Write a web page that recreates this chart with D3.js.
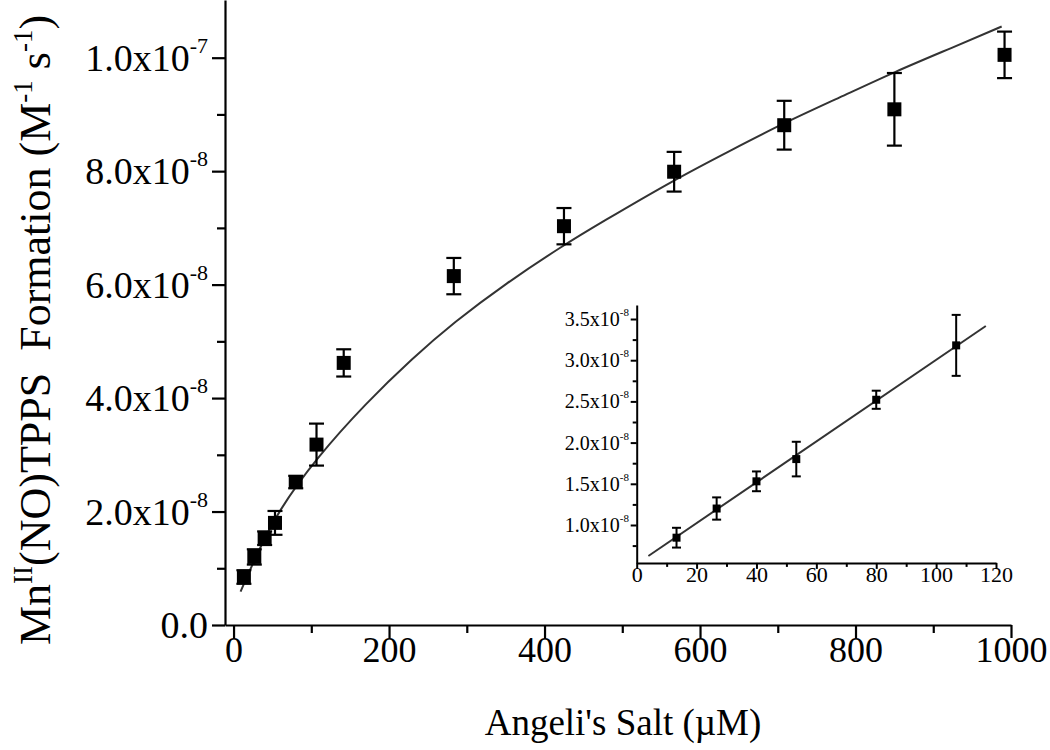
<!DOCTYPE html>
<html>
<head>
<meta charset="utf-8">
<script src="https://cdn.jsdelivr.net/npm/d3@7"></script>
<style>
  html, body { margin: 0; padding: 0; background: #fff; }
  svg { display: block; }
  text { font-family: "Liberation Serif", "Times New Roman", serif; fill: #000; }
</style>
</head>
<body>
<svg id="chart" width="1050" height="750"></svg>
<script>
// ---------- data (y values in units of 1e-8 M s^-1) ----------
const xVals = [13.3, 26.7, 40, 53.3, 80, 106.7, 141.7, 283.3, 425, 566.7, 708.3, 850, 991.7];
const yVals = [0.846, 1.2, 1.53, 1.8, 2.52, 3.18, 4.62, 6.15, 7.03, 7.99, 8.81, 9.09, 10.05];
const yErr  = [0.12, 0.135, 0.12, 0.21, 0.11, 0.37, 0.24, 0.32, 0.32, 0.35, 0.43, 0.64, 0.41];

// fitted curve
const fitX = [9, 30, 57, 107, 171, 230, 283, 350, 425, 471, 567, 640, 708, 780, 850, 925, 988];
const fitY = [0.59, 1.25, 2.0, 2.95, 3.92, 4.7, 5.33, 6.02, 6.7, 7.08, 7.85, 8.37, 8.85, 9.3, 9.75, 10.18, 10.55];

// inset: first six points and linear fit
const insetCount = 6;
const insetFitX = [3.9, 116.6];
const insetFitY = [0.624, 3.415];

// tick labels
const xTicks = [0, 200, 400, 600, 800, 1000];
const xMinorTicks = [100, 300, 500, 700, 900];
const yTicks = [0, 2, 4, 6, 8, 10];
const yTickMant = ["0.0", "2.0x10", "4.0x10", "6.0x10", "8.0x10", "1.0x10"];
const yTickExp  = ["", "-8", "-8", "-8", "-8", "-7"];
const yMinorTicks = [1, 3, 5, 7, 9];

const insetXTicks = [0, 20, 40, 60, 80, 100, 120];
const insetXMinor = [10, 30, 50, 70, 90, 110];
const insetYTicks = [1.0, 1.5, 2.0, 2.5, 3.0, 3.5];
const insetYMant = ["1.0x10", "1.5x10", "2.0x10", "2.5x10", "3.0x10", "3.5x10"];
const insetYExp = "-8";
const insetYMinor = [0.75, 1.25, 1.75, 2.25, 2.75, 3.25];

const xTitle = "Angeli's Salt (\u00B5M)";

// ---------- drawing ----------
const svg = d3.select("#chart");

const x = d3.scaleLinear().domain([-11, 1000]).range([225, 1011]);
const y = d3.scaleLinear().domain([0, 11.017]).range([625, 0]);

function styleAxis(g) {
  g.select(".domain").attr("stroke", "#000").attr("stroke-width", 2.2);
  g.selectAll(".tick line").attr("stroke", "#000").attr("stroke-width", 2.2);
}

// main x axis
const gx = svg.append("g").attr("transform", `translate(0,${y(0)})`)
  .call(d3.axisBottom(x).tickValues(xTicks).tickSize(13).tickSizeOuter(0).tickFormat(d3.format("d")))
  .call(styleAxis);
gx.selectAll(".tick text").attr("font-size", 36).attr("dy", "0.58em")
  .attr("font-family", "Liberation Serif").attr("fill", "#000");
svg.append("g").attr("transform", `translate(0,${y(0)})`)
  .call(d3.axisBottom(x).tickValues(xMinorTicks).tickSize(8).tickFormat(""))
  .call(styleAxis).select(".domain").remove();

// main y axis
svg.append("g").attr("transform", `translate(${x.range()[0]},0)`)
  .call(d3.axisLeft(y).tickValues(yTicks).tickSize(13).tickSizeOuter(0).tickFormat(""))
  .call(styleAxis);
svg.append("g").attr("transform", `translate(${x.range()[0]},0)`)
  .call(d3.axisLeft(y).tickValues(yMinorTicks).tickSize(8).tickFormat(""))
  .call(styleAxis).select(".domain").remove();

yTicks.forEach((v, i) => {
  const t = svg.append("text")
    .attr("x", 208).attr("y", y(v) + 13)
    .attr("text-anchor", "end").attr("font-size", 38);
  t.append("tspan").text(yTickMant[i]);
  if (yTickExp[i]) {
    t.append("tspan").attr("font-size", 22).attr("dy", -18).text(yTickExp[i]);
  }
});

// axis titles
svg.append("text").attr("x", 623).attr("y", 735).attr("text-anchor", "middle")
  .attr("font-size", 37).text(xTitle);

const yt = svg.append("text")
  .attr("transform", `translate(50,330) rotate(-90)`)
  .attr("text-anchor", "middle").attr("font-size", 44);
yt.append("tspan").text("Mn");
yt.append("tspan").attr("font-size", 27).attr("dy", -18).text("II");
yt.append("tspan").attr("dy", 18).text("(NO)TPPS\u00A0 Formation (M");
yt.append("tspan").attr("font-size", 27).attr("dy", -18).text("-1");
yt.append("tspan").attr("dy", 18).text(" s");
yt.append("tspan").attr("font-size", 27).attr("dy", -18).text("-1");
yt.append("tspan").attr("dy", 18).text(")");

// fit curve
const pts = fitX.map((v, i) => [v, fitY[i]]);
svg.append("path")
  .attr("d", d3.line().x(d => x(d[0])).y(d => y(d[1])).curve(d3.curveBasis)(pts))
  .attr("fill", "none").attr("stroke", "#333").attr("stroke-width", 2);

// data with error bars
const data = xVals.map((v, i) => ({ x: v, y: yVals[i], e: yErr[i] }));
const eb = svg.append("g").attr("stroke", "#000").attr("stroke-width", 2.2);
data.forEach(d => {
  const cx = x(d.x);
  eb.append("line").attr("x1", cx).attr("x2", cx).attr("y1", y(d.y - d.e)).attr("y2", y(d.y + d.e));
  eb.append("line").attr("x1", cx - 7.5).attr("x2", cx + 7.5).attr("y1", y(d.y - d.e)).attr("y2", y(d.y - d.e));
  eb.append("line").attr("x1", cx - 7.5).attr("x2", cx + 7.5).attr("y1", y(d.y + d.e)).attr("y2", y(d.y + d.e));
});
svg.append("g").selectAll("rect").data(data).join("rect")
  .attr("x", d => x(d.x) - 7).attr("y", d => y(d.y) - 7)
  .attr("width", 14).attr("height", 14).attr("fill", "#000");

// ---------- inset ----------
const ix = d3.scaleLinear().domain([0, 120]).range([636.7, 996]);
const iy = d3.scaleLinear().domain([0.54, 3.67]).range([562.9, 305]);

function styleInset(g) {
  g.select(".domain").attr("stroke", "#000").attr("stroke-width", 2);
  g.selectAll(".tick line").attr("stroke", "#000").attr("stroke-width", 2);
}
const igx = svg.append("g").attr("transform", `translate(0,${iy.range()[0]})`)
  .call(d3.axisBottom(ix).tickValues(insetXTicks).tickSize(6).tickSizeOuter(0).tickFormat(d3.format("d")))
  .call(styleInset);
igx.selectAll(".tick text").attr("font-size", 22).attr("dy", "0.45em")
  .attr("font-family", "Liberation Serif").attr("fill", "#222");
svg.append("g").attr("transform", `translate(0,${iy.range()[0]})`)
  .call(d3.axisBottom(ix).tickValues(insetXMinor).tickSize(4).tickFormat(""))
  .call(styleInset).select(".domain").remove();

svg.append("g").attr("transform", `translate(${ix.range()[0]},0)`)
  .call(d3.axisLeft(iy).tickValues(insetYTicks).tickSize(6).tickSizeOuter(0).tickFormat(""))
  .call(styleInset);
svg.append("g").attr("transform", `translate(${ix.range()[0]},0)`)
  .call(d3.axisLeft(iy).tickValues(insetYMinor).tickSize(4).tickFormat(""))
  .call(styleInset).select(".domain").remove();

insetYTicks.forEach((v, i) => {
  const t = svg.append("text")
    .attr("x", 629).attr("y", iy(v) + 7)
    .attr("text-anchor", "end").attr("font-size", 20).attr("fill", "#222");
  t.append("tspan").text(insetYMant[i]);
  t.append("tspan").attr("font-size", 11).attr("dy", -10).text(insetYExp);
});

svg.append("path")
  .attr("d", d3.line().x(d => ix(d[0])).y(d => iy(d[1]))(insetFitX.map((v, i) => [v, insetFitY[i]])))
  .attr("fill", "none").attr("stroke", "#333").attr("stroke-width", 2);

const idata = data.slice(0, insetCount);
const ieb = svg.append("g").attr("stroke", "#000").attr("stroke-width", 2);
idata.forEach(d => {
  const cx = ix(d.x);
  ieb.append("line").attr("x1", cx).attr("x2", cx).attr("y1", iy(d.y - d.e)).attr("y2", iy(d.y + d.e));
  ieb.append("line").attr("x1", cx - 4.5).attr("x2", cx + 4.5).attr("y1", iy(d.y - d.e)).attr("y2", iy(d.y - d.e));
  ieb.append("line").attr("x1", cx - 4.5).attr("x2", cx + 4.5).attr("y1", iy(d.y + d.e)).attr("y2", iy(d.y + d.e));
});
svg.append("g").selectAll("rect").data(idata).join("rect")
  .attr("x", d => ix(d.x) - 4).attr("y", d => iy(d.y) - 4)
  .attr("width", 8).attr("height", 8).attr("fill", "#000");
</script>
</body>
</html>
